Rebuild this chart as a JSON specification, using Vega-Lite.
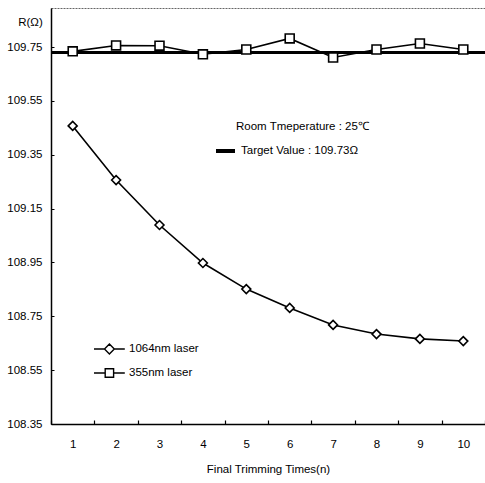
{
  "$schema": "https://vega.github.io/schema/vega-lite/v6.json",
  "width": 434,
  "height": 416,
  "autosize": {"type": "none"},
  "padding": {"left": 51, "top": 8, "right": 0, "bottom": 59},
  "background": "white",
  "config": {
    "font": "Liberation Sans",
    "view": {"stroke": "#666", "strokeDash": [2, 1], "strokeWidth": 1},
    "axis": {"labelFont": "Liberation Sans", "titleFont": "Liberation Sans", "labelColor": "#000", "titleColor": "#000", "domainColor": "#000", "tickColor": "#000", "grid": false}
  },
  "data": {
    "values": [
      {"n": 1, "series": "1064nm laser", "r": 109.457},
      {"n": 2, "series": "1064nm laser", "r": 109.256},
      {"n": 3, "series": "1064nm laser", "r": 109.089},
      {"n": 4, "series": "1064nm laser", "r": 108.948},
      {"n": 5, "series": "1064nm laser", "r": 108.851},
      {"n": 6, "series": "1064nm laser", "r": 108.781},
      {"n": 7, "series": "1064nm laser", "r": 108.718},
      {"n": 8, "series": "1064nm laser", "r": 108.684},
      {"n": 9, "series": "1064nm laser", "r": 108.666},
      {"n": 10, "series": "1064nm laser", "r": 108.658},
      {"n": 1, "series": "355nm laser", "r": 109.734},
      {"n": 2, "series": "355nm laser", "r": 109.756},
      {"n": 3, "series": "355nm laser", "r": 109.755},
      {"n": 4, "series": "355nm laser", "r": 109.723},
      {"n": 5, "series": "355nm laser", "r": 109.741},
      {"n": 6, "series": "355nm laser", "r": 109.782},
      {"n": 7, "series": "355nm laser", "r": 109.711},
      {"n": 8, "series": "355nm laser", "r": 109.741},
      {"n": 9, "series": "355nm laser", "r": 109.763},
      {"n": 10, "series": "355nm laser", "r": 109.741}
    ]
  },
  "encoding": {
    "x": {
      "field": "n", "type": "ordinal",
      "scale": {"type": "band", "paddingInner": 0, "paddingOuter": 0},
      "axis": {"title": "Final Trimming Times(n)", "labelAngle": 0, "labelFontSize": 11.5, "titleFontSize": 11.5, "titleFontWeight": "normal", "tickBand": "extent", "tickSize": -4, "tickWidth": 1.2, "labelPadding": 18, "titleY": 45, "titleBaseline": "middle", "domainWidth": 1.5}
    },
    "y": {
      "field": "r", "type": "quantitative",
      "scale": {"domain": [108.35, 109.895], "nice": false, "zero": false},
      "axis": {"title": "R(Ω)", "values": [108.35, 108.55, 108.75, 108.95, 109.15, 109.35, 109.55, 109.75], "format": ".2f", "labelFontSize": 11.5, "titleFontSize": 11.5, "titleFontWeight": "normal", "titleAngle": 0, "titleX": -21, "titleY": 14, "titleAlign": "center", "titleBaseline": "middle", "tickSize": -3, "labelPadding": 12, "domainWidth": 1.5}
    }
  },
  "layer": [
    {
      "mark": {"type": "rule", "strokeWidth": 2.5},
      "encoding": {
        "x": null,
        "y": {"datum": 109.73, "type": "quantitative"},
        "stroke": {
          "datum": "Target Value : 109.73Ω",
          "type": "nominal",
          "scale": {"range": ["#000"]},
          "legend": {
            "orient": "none", "legendX": 163, "legendY": 113,
            "title": "Room Tmeperature : 25℃",
            "titleFont": "Liberation Sans", "titleFontSize": 11.5, "titleFontWeight": "normal", "titleColor": "#000",
            "titlePadding": 7,
            "labelFont": "Liberation Sans", "labelFontSize": 11.5, "labelColor": "#000",
            "symbolType": "stroke", "symbolStrokeWidth": 4, "symbolSize": 360, "labelOffset": 4,
            "encode": {"title": {"update": {"dx": {"value": 22}}}}
          }
        }
      }
    },
    {
      "mark": {"type": "line", "color": "#000", "strokeWidth": 1.6},
      "encoding": {"detail": {"field": "series"}}
    },
    {
      "mark": {"type": "point", "filled": true, "fill": "white", "stroke": "#000", "strokeWidth": 1.6, "opacity": 1, "size": 80},
      "encoding": {
        "shape": {
          "field": "series", "type": "nominal",
          "scale": {"domain": ["1064nm laser", "355nm laser"], "range": ["diamond", "square"]},
          "legend": null
        }
      }
    },
    {
      "transform": [{"filter": "datum.n > 100"}],
      "mark": {"type": "point", "filled": false, "color": "#000", "strokeWidth": 1.4, "opacity": 1},
      "encoding": {
        "shape": {
          "field": "series", "type": "nominal",
          "scale": {"domain": ["1064nm laser", "355nm laser"], "range": ["M-1,0H0.5M0.5,0L1.2,-0.7L1.9,0L1.2,0.7ZM1.9,0H3.4", "M-1,0H0.6M0.6,-0.6H1.8V0.6H0.6ZM1.8,0H3.4"]},
          "legend": {
            "orient": "none", "legendX": 42, "legendY": 333,
            "title": null,
            "labelFont": "Liberation Sans", "labelFontSize": 11.5, "labelColor": "#000",
            "symbolSize": 196, "rowPadding": 8, "labelOffset": 20,
            "symbolStrokeColor": "#000", "symbolStrokeWidth": 1.4, "symbolOpacity": 1
          }
        }
      }
    }
  ],
  "resolve": {"scale": {"shape": "independent"}}
}
